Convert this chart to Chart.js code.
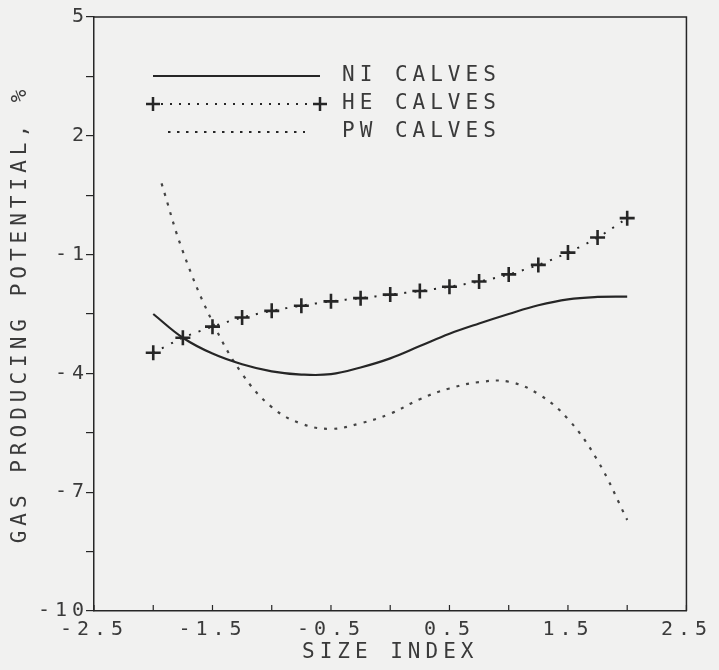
<!DOCTYPE html>
<html>
<head>
<meta charset="utf-8">
<script src="https://cdn.jsdelivr.net/npm/chart.js@4"></script>
<style>
html,body{margin:0;padding:0;background:#f1f1f0;}
#wrap{width:719px;height:670px;}
</style>
</head>
<body>
<div id="wrap"><canvas id="c" width="719" height="670"></canvas></div>
<script>
// ---- data ----
const heX = [-2.0,-1.75,-1.5,-1.25,-1.0,-0.75,-0.5,-0.25,0.0,0.25,0.5,0.75,1.0,1.25,1.5,1.75,2.0];
const heY = [-3.48,-3.10,-2.82,-2.59,-2.42,-2.29,-2.18,-2.10,-2.01,-1.92,-1.81,-1.68,-1.50,-1.26,-0.95,-0.57,-0.08];

const niX = [-2.0,-1.75,-1.5,-1.25,-1.0,-0.75,-0.5,-0.25,0.0,0.25,0.5,0.75,1.0,1.25,1.5,1.75,2.0];
const niY = [-2.50,-3.10,-3.50,-3.77,-3.95,-4.03,-4.02,-3.85,-3.62,-3.31,-3.00,-2.74,-2.50,-2.28,-2.13,-2.07,-2.06];

const pwX = [-1.93,-1.75,-1.5,-1.25,-1.0,-0.75,-0.5,-0.25,0.0,0.25,0.5,0.75,1.0,1.25,1.5,1.75,2.0];
const pwY = [0.80,-0.92,-2.70,-4.01,-4.85,-5.27,-5.40,-5.26,-5.02,-4.65,-4.38,-4.22,-4.21,-4.52,-5.15,-6.20,-7.70];

const seriesNames = ['NI CALVES','HE CALVES','PW CALVES'];
const xTickLabels = [-2.5,-1.5,-0.5,0.5,1.5,2.5];
const yTickLabels = [5,2,-1,-4,-7,-10];
const xTitle = 'SIZE INDEX';
const yTitle = 'GAS PRODUCING POTENTIAL, %';

const pts = (xs, ys) => xs.map((x,i)=>({x:x, y:ys[i]}));

const INK = '#262626';
const TXT = '#3a3a3a';
const FONT = 'DejaVu Sans Mono';
const SPACING = '5px';

const bgAndSpacing = {
  id:'bgAndSpacing',
  beforeLayout(chart){ chart.ctx.letterSpacing = SPACING; },
  beforeDraw(chart){
    const c = chart.ctx;
    c.save();
    c.fillStyle = '#f1f1f0';
    c.fillRect(0,0,chart.width,chart.height);
    c.restore();
    c.letterSpacing = SPACING;
  }
};

const frame = {
  id:'frame',
  afterDraw(chart){
    const c = chart.ctx, a = chart.chartArea;
    const xs = chart.scales.x;
    c.save();
    c.strokeStyle = INK;
    c.lineWidth = 1.5;
    c.beginPath();
    c.moveTo(a.left, a.top); c.lineTo(a.right, a.top); c.lineTo(a.right, a.bottom);
    c.stroke();
    // inward ticks on the bottom axis
    c.lineWidth = 1.2;
    xs.ticks.forEach(t=>{
      const px = xs.getPixelForValue(t.value);
      c.beginPath(); c.moveTo(px, a.bottom); c.lineTo(px, a.bottom-6); c.stroke();
    });
    // legend
    const lx0 = 153, lx1 = 320, tx = 342;
    const rows = [76, 104, 132];
    c.strokeStyle = INK;
    c.lineWidth = 2;
    c.setLineDash([]);
    c.beginPath(); c.moveTo(lx0, rows[0]); c.lineTo(lx1, rows[0]); c.stroke();
    c.lineWidth = 2;
    c.setLineDash([2,7]);
    c.beginPath(); c.moveTo(lx0+8, rows[1]); c.lineTo(lx1-8, rows[1]); c.stroke();
    c.setLineDash([]);
    c.lineWidth = 2.5;
    [lx0, lx1].forEach(px=>{
      c.beginPath();
      c.moveTo(px-7, rows[1]); c.lineTo(px+7, rows[1]);
      c.moveTo(px, rows[1]-7); c.lineTo(px, rows[1]+7);
      c.stroke();
    });
    c.lineWidth = 2;
    c.setLineDash([2.5,6.5]);
    c.beginPath(); c.moveTo(168, rows[2]); c.lineTo(305, rows[2]); c.stroke();
    c.setLineDash([]);
    c.fillStyle = TXT;
    c.font = '21px "' + FONT + '"';
    c.letterSpacing = SPACING;
    c.textBaseline = 'middle';
    c.textAlign = 'left';
    seriesNames.forEach((n,i)=> c.fillText(n, tx, rows[i]));
    c.restore();
  }
};

new Chart(document.getElementById('c'), {
  type:'scatter',
  data:{
    datasets:[
      { label:seriesNames[0], data:pts(niX,niY), showLine:true, borderColor:INK, borderWidth:2.2,
        pointRadius:0, tension:0.4 },
      { label:seriesNames[1], data:pts(heX,heY), showLine:true, borderColor:INK, borderWidth:2,
        borderDash:[2,8], pointStyle:'cross', pointRadius:7.5, pointBorderWidth:2.6,
        pointBorderColor:INK, pointBackgroundColor:INK, tension:0.3 },
      { label:seriesNames[2], data:pts(pwX,pwY), showLine:true, borderColor:'#444', borderWidth:2.2,
        borderDash:[3,7], pointRadius:0, tension:0.4 }
    ]
  },
  options:{
    responsive:false,
    animation:false,
    layout:{padding:{top:17,right:28,left:0,bottom:0}},
    plugins:{legend:{display:false}, tooltip:{enabled:false}},
    scales:{
      x:{
        type:'linear', min:-2.5, max:2.5,
        afterFit(s){ s.height = 59; },
        ticks:{ stepSize:0.5, autoSkip:false, maxRotation:0, padding:7, color:TXT,
          font:{family:FONT, size:20},
          callback(v){ const r = Math.round(v*10)/10; return xTickLabels.includes(r) ? r.toFixed(1) : ''; } },
        grid:{ drawOnChartArea:false, drawTicks:false },
        border:{ display:true, color:INK, width:1.5 },
        title:{ display:true, text:xTitle, color:TXT, font:{family:FONT, size:21}, padding:{top:0,bottom:5} }
      },
      y:{
        type:'linear', min:-10, max:5,
        afterFit(s){ s.width = 94; },
        ticks:{ stepSize:1.5, autoSkip:false, padding:-3, color:TXT,
          font:{family:FONT, size:20},
          callback(v){ const r = Math.round(v*10)/10; return yTickLabels.includes(r) ? String(r) : ''; } },
        grid:{ drawOnChartArea:false, drawTicks:true, tickLength:8, color:INK, lineWidth:1.2 },
        border:{ display:true, color:INK, width:1.5 },
        title:{ display:true, text:yTitle, color:TXT, font:{family:FONT, size:21}, padding:{top:8,bottom:0} }
      }
    }
  },
  plugins:[bgAndSpacing, frame]
});
</script>
</body>
</html>
